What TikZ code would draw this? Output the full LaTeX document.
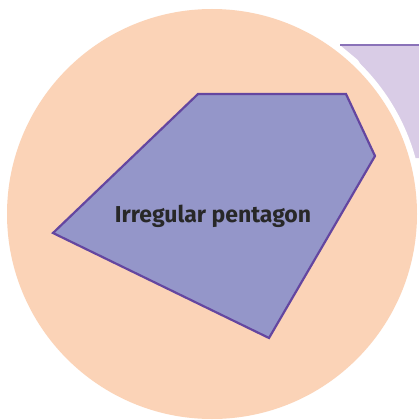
\documentclass[tikz,border=0pt]{standalone}
\usepackage{fontspec}
\newfontfamily\labelfont{Fira Sans}
\definecolor{peach}{HTML}{FBD3B7}
\definecolor{lilac}{HTML}{D9CCE6}
\definecolor{lilacline}{HTML}{8A72B8}
\definecolor{pentfill}{HTML}{9496C9}
\definecolor{pentline}{HTML}{6446A0}
\definecolor{ink}{HTML}{282828}
\tikzset{
  shapelabel/.style={font=\labelfont\bfseries\fontsize{23}{27}\selectfont,text=ink}
}

\begin{document}
\begin{tikzpicture}[x=1pt,y=-1pt]
  \useasboundingbox(0,0) rectangle(419,420);
  % card behind the circle
  \fill[lilac](340,45)--(430,45)--(430,158)--(410,158)--(400,130)--(358,60)--cycle;
  \draw[lilacline,line width=1.5pt](340,45)--(419,45);
  % circle with white rim
  \fill[white](212,214) circle(211);
  \fill[peach](212,214) circle(205);
  % pentagon
  \draw[pentline,fill=pentfill,line width=2.2pt,line join=miter]
    (198,94)--(346,94)--(375,156)--(269,338)--(53,233)--cycle;
  \node[shapelabel] (name) at(213,216){Irregular pentagon};
\end{tikzpicture}
\end{document}
